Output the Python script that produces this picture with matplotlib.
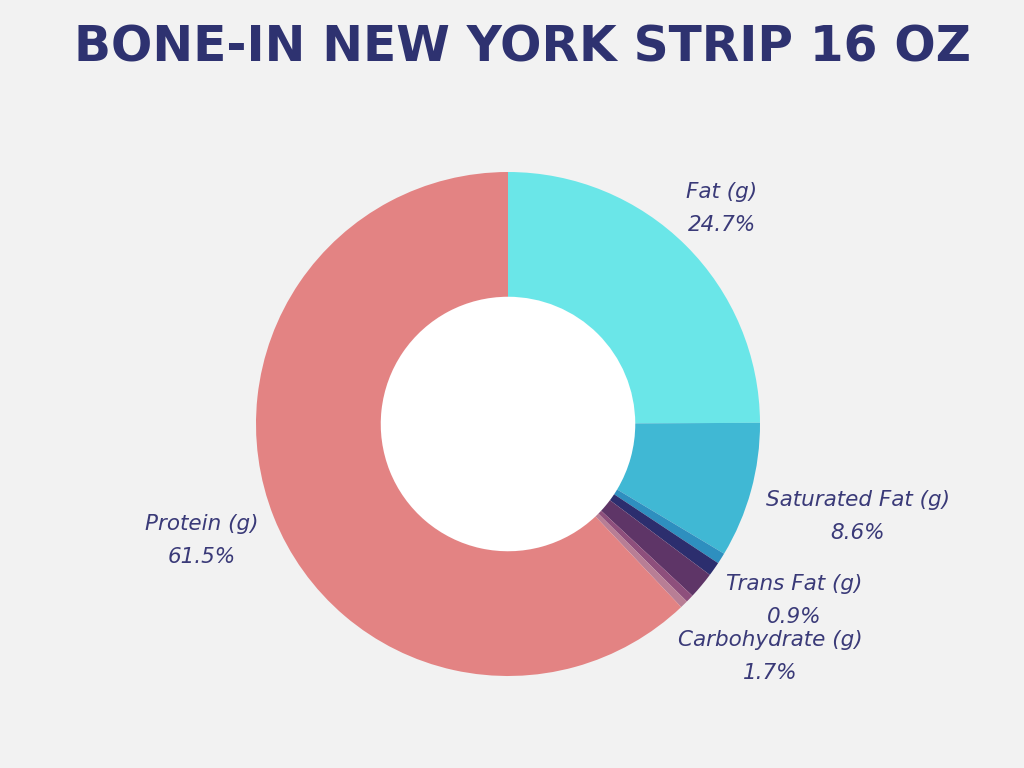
import matplotlib
matplotlib.use("Agg")
import matplotlib.pyplot as plt

labels = ["Fat (g)", "Saturated Fat (g)", "", "Trans Fat (g)", "Carbohydrate (g)", "", "", "Protein (g)"]
values = [24.7, 8.6, 0.7, 0.9, 1.7, 0.5, 0.5, 61.5]
colors = ["#6ae6e8", "#40b8d4", "#2e8fbf", "#2c2e6e", "#5e3567", "#8e4f7c", "#b87e95", "#e38383"]
label_pos = {"Fat (g)": (722, 192), "Saturated Fat (g)": (858, 500), "Trans Fat (g)": (794, 584),
             "Carbohydrate (g)": (770, 640), "Protein (g)": (202, 524)}

W, H = 1024, 768
fig = plt.figure(figsize=(W/100, H/100), dpi=100, facecolor="#f2f2f2")
R = 252
cx, cy = 508, 424
ax = fig.add_axes([(cx-R)/W, (H-cy-R)/H, 2*R/W, 2*R/H])
ax.set_facecolor("#f2f2f2")
ax.pie(values, colors=colors, startangle=90, counterclock=False, radius=1,
       wedgeprops=dict(width=0.495, edgecolor="none"))
ax.add_patch(plt.Circle((0, 0), 0.505, color="white", zorder=0))
ax.set_xlim(-1, 1); ax.set_ylim(-1, 1); ax.set_aspect("equal"); ax.axis("off")

fig.text(522/W, 1-47/H, "BONE-IN NEW YORK STRIP 16 OZ", ha="center", va="center",
         fontsize=35, fontweight="bold", color="#2e3270", family="DejaVu Sans")
for lab, v in zip(labels, values):
    if lab:
        x, y = label_pos[lab]
        fig.text(x/W, 1-y/H, lab, ha="center", va="center", fontsize=15.5, style="italic", color="#3a3a78")
        fig.text(x/W, 1-(y+33)/H, f"{v}%", ha="center", va="center", fontsize=15.5, style="italic", color="#3a3a78")
fig.savefig("out.png", dpi=100, facecolor=fig.get_facecolor())
